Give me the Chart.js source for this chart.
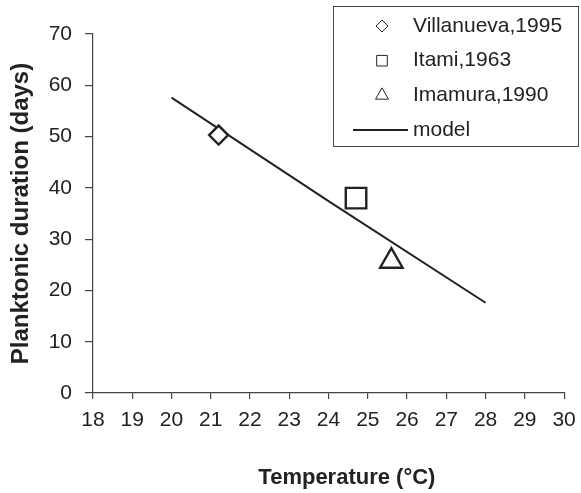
<!DOCTYPE html>
<html>
<head>
<meta charset="utf-8">
<script src="https://cdn.jsdelivr.net/npm/chart.js@4/dist/chart.umd.min.js"></script>
<style>
  html, body { margin: 0; padding: 0; background: #fff; }
  #wrap { width: 581px; height: 493px; }
</style>
</head>
<body>
<div id="wrap"><canvas id="chart"></canvas></div>
<script>
// temperature (°C) vs planktonic duration (days)
const xTickValues = [18, 19, 20, 21, 22, 23, 24, 25, 26, 27, 28, 29, 30];
const yTickValues = [0, 10, 20, 30, 40, 50, 60, 70];

const seriesNames = ['Villanueva,1995', 'Itami,1963', 'Imamura,1990', 'model'];
const villanuevaTemp = [21.2];
const villanuevaDays = [50.3];
const itamiTemp = [24.7];
const itamiDays = [38.0];
const imamuraTemp = [25.6];
const imamuraDays = [25.7];
const modelTemp = [20, 24, 28];
const modelDays = [57.6, 37.4, 17.6];

const INK = '#222';
const AXIS = '#444';
const FONT = '"Liberation Sans", Arial, sans-serif';

const toPoints = (xs, ys) => xs.map((x, i) => ({ x, y: ys[i] }));

// small radii for the symbols inside the legend box
const legendRadius = [6, 7.5, 7.5, 0];

const boxLegend = {
  id: 'boxLegend',
  afterDraw(chart) {
    const ctx = chart.ctx;
    ctx.save();
    ctx.strokeStyle = AXIS;
    ctx.lineWidth = 1;
    ctx.strokeRect(333.5, 6.5, 245, 140);

    chart.data.datasets.forEach((ds, i) => {
      const y = 26 + i * 34.7;
      ctx.strokeStyle = INK;
      if (ds.showLine) {
        ctx.lineWidth = 2;
        ctx.beginPath();
        ctx.moveTo(353, y);
        ctx.lineTo(408, y);
        ctx.stroke();
      } else {
        ctx.fillStyle = '#fff';
        Chart.helpers.drawPoint(ctx, {
          pointStyle: ds.pointStyle, radius: legendRadius[i], borderWidth: 2.5, rotation: 0
        }, 382, y);
      }
      ctx.fillStyle = INK;
      ctx.font = '21px ' + FONT;
      ctx.textBaseline = 'middle';
      ctx.textAlign = 'left';
      ctx.fillText(ds.label, 413, y);
    });
    ctx.restore();
  }
};

const markerBase = {
  backgroundColor: '#fff',
  borderColor: INK,
  borderWidth: 2.4,
  hoverRadius: 0
};

new Chart(document.getElementById('chart'), {
  type: 'scatter',
  data: {
    datasets: [
      { ...markerBase, label: seriesNames[0], data: toPoints(villanuevaTemp, villanuevaDays), pointStyle: 'rectRot', pointRadius: 9.5 },
      { ...markerBase, label: seriesNames[1], data: toPoints(itamiTemp, itamiDays), pointStyle: 'rect', pointRadius: 14.5 },
      { ...markerBase, label: seriesNames[2], data: toPoints(imamuraTemp, imamuraDays), pointStyle: 'triangle', pointRadius: 13 },
      {
        label: seriesNames[3], data: toPoints(modelTemp, modelDays),
        showLine: true, borderColor: INK, borderWidth: 2, pointRadius: 0, tension: 0
      }
    ]
  },
  options: {
    responsive: true,
    maintainAspectRatio: false,
    animation: false,
    events: [],
    layout: { padding: { top: 34, right: 6, left: 0, bottom: 0 } },
    plugins: { legend: { display: false }, tooltip: { enabled: false } },
    scales: {
      x: {
        type: 'linear', min: 18, max: 30,
        afterBuildTicks: s => { s.ticks = xTickValues.map(v => ({ value: v })); },
        afterFit: s => { s.height = 100; s.paddingLeft = 0; s.paddingRight = 0; },
        grid: { drawOnChartArea: false, drawTicks: true, tickLength: 6, color: AXIS, lineWidth: 1.2 },
        border: { display: true, color: AXIS, width: 1.2 },
        ticks: { color: INK, padding: 9, font: { family: FONT, size: 21 } },
        title: {
          display: true, text: '      Temperature (°C)', color: INK,
          font: { family: FONT, size: 22, weight: 'bold' }, padding: { top: 0, bottom: 2 }
        }
      },
      y: {
        type: 'linear', min: 0, max: 70,
        afterBuildTicks: s => { s.ticks = yTickValues.map(v => ({ value: v })); },
        afterFit: s => { s.width = 93; s.paddingTop = 0; s.paddingBottom = 0; },
        grid: { drawOnChartArea: false, drawTicks: true, tickLength: 8, color: AXIS, lineWidth: 1.2 },
        border: { display: true, color: AXIS, width: 1.2 },
        ticks: { color: INK, padding: 13, font: { family: FONT, size: 21 } },
        title: {
          display: true, text: 'Planktonic duration (days)', color: INK,
          font: { family: FONT, size: 24, weight: 'bold' }, padding: { top: 7, bottom: 0 }
        }
      }
    }
  },
  plugins: [boxLegend]
});
</script>
</body>
</html>
